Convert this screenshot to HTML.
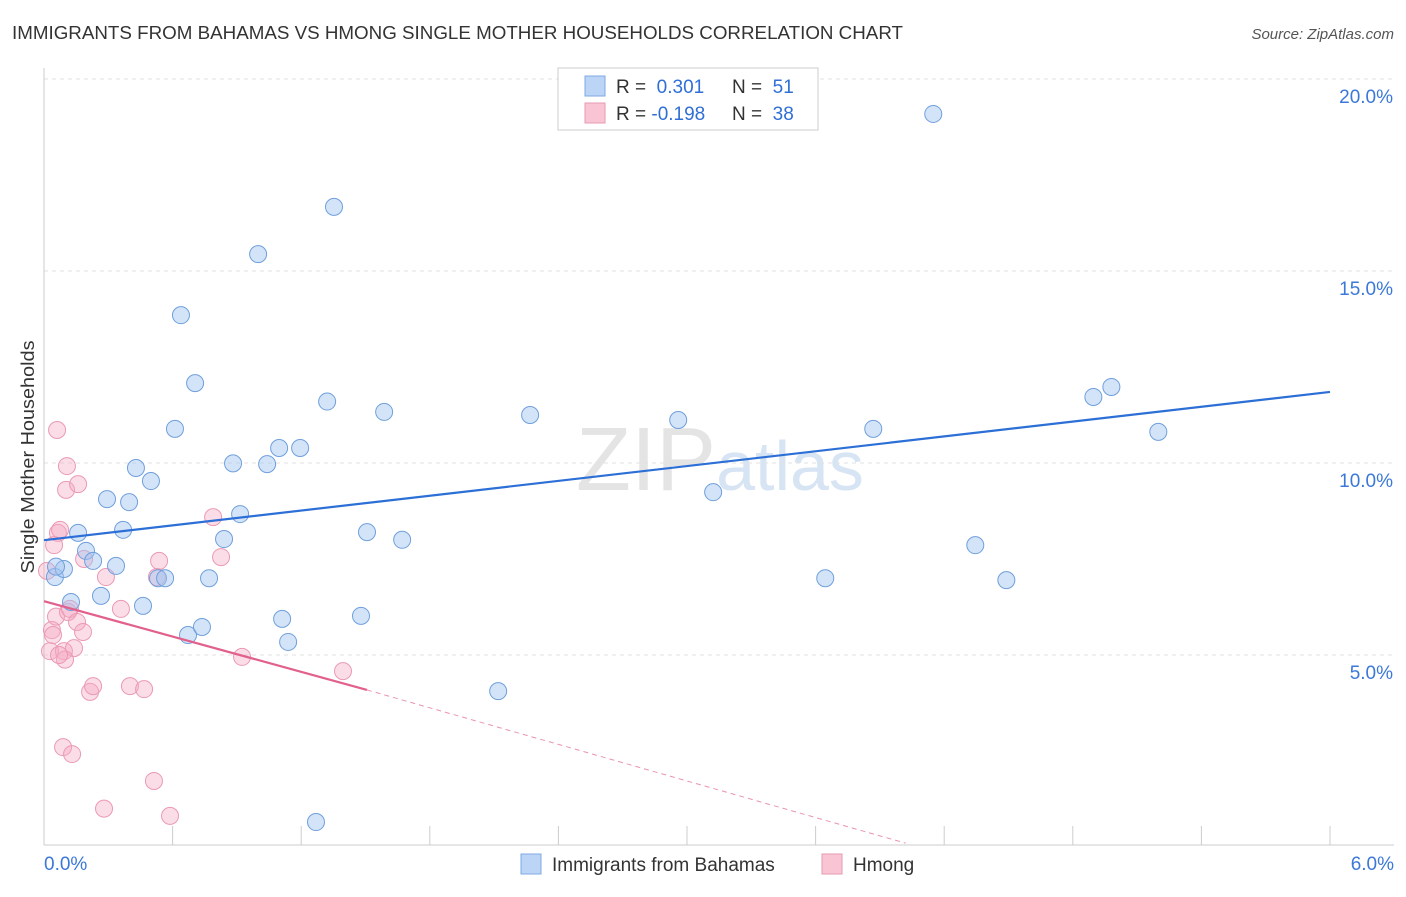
<!DOCTYPE html>
<html><head><meta charset="utf-8"><style>
body{margin:0;background:#fff;font-family:"Liberation Sans",sans-serif}
svg text{font-family:"Liberation Sans",sans-serif}
</style></head><body>
<svg id="chart" width="1406" height="892" xmlns="http://www.w3.org/2000/svg">
<text x="12" y="39" font-size="18" fill="#333" textLength="891" lengthAdjust="spacingAndGlyphs">IMMIGRANTS FROM BAHAMAS VS HMONG SINGLE MOTHER HOUSEHOLDS CORRELATION CHART</text>
<text x="1394" y="39" font-size="15" fill="#555" font-style="italic" text-anchor="end">Source: ZipAtlas.com</text>
<text x="34" y="457" font-size="18" fill="#333" text-anchor="middle" textLength="233" lengthAdjust="spacingAndGlyphs" transform="rotate(-90 34 457)">Single Mother Households</text>
<text x="720" y="490" font-size="90" fill="#e4e4e4" text-anchor="middle" font-family="Liberation Serif">ZIP<tspan fill="#d6e4f3" font-family="Liberation Sans" font-size="70">atlas</tspan></text>
<g id="grid"></g><g id="pts"></g><g id="lines"></g>
<g>
<rect x="558" y="68" width="260" height="62" fill="#fff" stroke="#ccc"/>
<rect x="585" y="76" width="20" height="20" fill="#bcd4f6" stroke="#7fa8e0"/>
<rect x="585" y="103" width="20" height="20" fill="#f9c5d5" stroke="#e89ab2"/>
<text x="616" y="93" font-size="19" fill="#333">R = <tspan fill="#2f6fd6">&#160;0.301</tspan><tspan x="732">N = </tspan><tspan fill="#2f6fd6">&#160;51</tspan></text>
<text x="616" y="120" font-size="19" fill="#333">R = <tspan fill="#2f6fd6">-0.198</tspan><tspan x="732">N = </tspan><tspan fill="#2f6fd6">&#160;38</tspan></text>
</g>
<g>
<rect x="521" y="854" width="20" height="20" fill="#bcd4f6" stroke="#7fa8e0"/>
<text x="552" y="871" font-size="19" fill="#333">Immigrants from Bahamas</text>
<rect x="822" y="854" width="20" height="20" fill="#f9c5d5" stroke="#e89ab2"/>
<text x="853" y="871" font-size="19" fill="#333">Hmong</text>
</g>
</svg>
<script>
const yTicks=[5,10,15,20];
const yTickLabels=["5.0%","10.0%","15.0%","20.0%"];
const xTickLabels=["0.0%","6.0%"];
const blueX=[0.051,0.093,0.126,0.159,0.196,0.229,0.266,0.294,0.336,0.369,0.397,0.429,0.462,0.499,0.532,0.565,0.611,0.639,0.672,0.705,0.737,0.770,0.840,0.882,0.915,0.999,1.041,1.097,1.111,1.139,1.195,1.269,1.321,1.353,1.479,1.507,1.587,1.671,2.119,2.268,2.959,3.122,3.645,3.869,4.149,4.345,4.490,4.896,4.980,5.199,0.056];
const blueY=[7.03,7.24,6.38,8.18,7.71,7.45,6.54,9.06,7.32,8.26,8.98,9.87,6.28,9.53,7.00,7.00,10.89,13.85,5.52,12.08,5.73,7.00,8.02,9.99,8.67,15.44,9.97,10.39,5.94,5.34,10.39,0.65,11.60,16.67,6.02,8.20,11.33,8.00,4.06,11.25,11.12,9.24,7.00,10.89,19.09,7.86,6.95,11.72,11.98,10.81,7.30];
const pinkX=[0.014,0.028,0.037,0.042,0.056,0.061,0.065,0.075,0.089,0.093,0.103,0.107,0.112,0.121,0.131,0.140,0.154,0.159,0.182,0.187,0.215,0.229,0.280,0.289,0.359,0.401,0.467,0.513,0.527,0.537,0.588,0.789,0.826,0.924,1.395,0.047,0.098,0.070];
const pinkY=[7.19,5.10,5.65,5.52,6.00,10.86,8.18,8.26,2.60,5.10,9.30,9.92,6.12,6.20,2.42,5.18,5.86,9.45,5.60,7.50,4.04,4.19,1.00,7.03,6.20,4.19,4.11,1.72,7.03,7.45,0.81,8.59,7.55,4.95,4.58,7.86,4.88,5.00];
const blueFit=[7.99,11.85];
const pinkFit=[6.40,4.09,0.10];
const pinkFitX=[0,1.507,4.02];
const X=v=>44+v/6*1286, Y=v=>847-v*38.4;
const NS="http://www.w3.org/2000/svg";
function mk(t,a,p){const e=document.createElementNS(NS,t);for(const k in a)e.setAttribute(k,a[k]);p.appendChild(e);return e;}
const grid=document.getElementById('grid');
yTicks.forEach((t,i)=>{
const l=mk('line',{x1:44,x2:1394,y1:Y(t),y2:Y(t),stroke:'#e2e2e2','stroke-dasharray':'4,4'},grid);


const tx=mk('text',{x:1393,y:Y(t)+24,'font-size':19,fill:'#3b78d8','text-anchor':'end'},grid);tx.textContent=yTickLabels[i];


});
const ax=mk('line',{x1:44,x2:44,y1:68,y2:845,stroke:'#ccc'},grid);


const bx=mk('line',{x1:44,x2:1394,y1:845,y2:845,stroke:'#ccc'},grid);


for(let i=0;i<=10;i++){const t=mk('line',{x1:X(i*0.6),x2:X(i*0.6),y1:826,y2:845,stroke:'#ccc'},grid);

}
[[0,'start',44],[6,'end',1394]].forEach((d,i)=>{const t=mk('text',{x:d[2],y:870,'font-size':19,fill:'#3b78d8','text-anchor':d[1]},grid);t.textContent=xTickLabels[i];

});
const pts=document.getElementById('pts');
pinkX.forEach((x,i)=>{const c=mk('circle',{cx:X(x),cy:Y(pinkY[i]),r:8.5,fill:'rgba(246,170,195,0.4)',stroke:'#eb9ab4','stroke-width':1},pts);

});
blueX.forEach((x,i)=>{const c=mk('circle',{cx:X(x),cy:Y(blueY[i]),r:8.5,fill:'rgba(160,195,240,0.45)',stroke:'#6f9fdc','stroke-width':1},pts);

});
const lines=document.getElementById('lines');
const bl=mk('line',{x1:X(0),y1:Y(blueFit[0]),x2:X(6),y2:Y(blueFit[1]),stroke:'#2c6fd6','stroke-width':2.2},lines);


const pl=mk('line',{x1:X(pinkFitX[0]),y1:Y(pinkFit[0]),x2:X(pinkFitX[1]),y2:Y(pinkFit[1]),stroke:'#e2608d','stroke-width':2.2},lines);


const pd=mk('line',{x1:X(pinkFitX[1]),y1:Y(pinkFit[1]),x2:X(pinkFitX[2]),y2:Y(pinkFit[2]),stroke:'#e994b0','stroke-width':1,'stroke-dasharray':'5,4'},lines);


</script>
</body></html>
